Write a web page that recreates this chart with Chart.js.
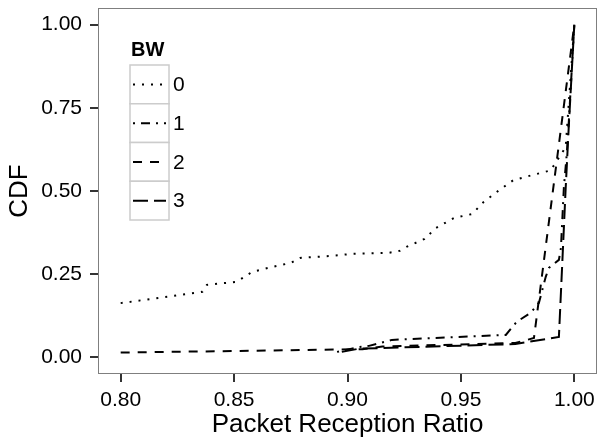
<!DOCTYPE html>
<html>
<head>
<meta charset="utf-8">
<script src="https://cdn.jsdelivr.net/npm/chart.js@4.4.1/dist/chart.umd.min.js"></script>
<style>
  html, body { margin: 0; padding: 0; background: #fff; }
</style>
</head>
<body>
<canvas id="cdfChart" width="598" height="440"></canvas>
<script>
// values
const bwLevels = ['0', '1', '2', '3'];

const prr0 = [0.800, 0.836, 0.838, 0.851, 0.858, 0.867, 0.875, 0.879, 0.893, 0.902, 0.918, 0.923,
              0.926, 0.934, 0.939, 0.947, 0.955, 0.960, 0.967, 0.973, 0.981, 0.9896, 0.9962, 1.000];
const cdf0 = [0.163, 0.197, 0.218, 0.227, 0.257, 0.272, 0.284, 0.299, 0.305, 0.311, 0.314, 0.320,
              0.332, 0.356, 0.389, 0.419, 0.431, 0.467, 0.503, 0.532, 0.547, 0.562, 0.632, 1.000];

const prr1 = [0.8954, 0.905, 0.9095, 0.9196, 0.9698, 0.9746, 0.9808, 0.9844, 0.9874, 0.9888,
              0.9932, 0.9941, 0.9954, 0.9967, 0.9976, 1.000];
const cdf1 = [0.0165, 0.031, 0.0345, 0.0525, 0.0675, 0.107, 0.134, 0.164, 0.242, 0.269,
              0.293, 0.329, 0.511, 0.614, 0.712, 1.000];

const prr2 = [0.800, 0.9066, 0.9154, 0.974, 0.9822, 1.000];
const cdf2 = [0.0144, 0.0246, 0.0324, 0.0435, 0.058, 1.000];

const prr3 = [0.8975, 0.905, 0.974, 0.9932, 0.9944, 0.9962, 0.9976, 1.000];
const cdf3 = [0.0165, 0.026, 0.040, 0.0615, 0.24, 0.51, 0.70, 1.000];

const xTicks = [0.80, 0.85, 0.90, 0.95, 1.00];
const yTicks = [0.00, 0.25, 0.50, 0.75, 1.00];

// ggplot linetypes: dotted, dotdash, dashed, longdash
const dashPatterns = [[2, 7], [2, 6, 9, 6], [9, 8], [15, 6]];

const FONT = '"Liberation Sans", Arial, Helvetica, sans-serif';

function toPoints(xs, ys) {
  return xs.map((x, i) => ({ x: x, y: ys[i] }));
}

const seriesX = [prr0, prr1, prr2, prr3];
const seriesY = [cdf0, cdf1, cdf2, cdf3];

const datasets = bwLevels.map((bw, i) => ({
  label: bw,
  data: toPoints(seriesX[i], seriesY[i]),
  borderColor: '#000',
  borderWidth: 2,
  borderDash: dashPatterns[i],
  pointRadius: 0,
  tension: 0,
  fill: false
}));

// grey panel border + ggplot style legend inside the panel
const panelLegend = {
  id: 'panelLegend',
  afterDatasetsDraw(chart) {
    const { ctx, chartArea: a } = chart;
    ctx.save();
    ctx.strokeStyle = '#7f7f7f';
    ctx.lineWidth = 1;
    ctx.strokeRect(a.left + 0.5, a.top + 0.5, a.width - 1, a.height - 1);

    const left = a.left + 32;
    const top = a.top + 57;
    const keyW = 39;
    const keyH = 38.75;

    ctx.fillStyle = '#000';
    ctx.font = 'bold 20px ' + FONT;
    ctx.textBaseline = 'alphabetic';
    ctx.textAlign = 'left';
    ctx.fillText('BW', left + 1, top - 9);

    chart.data.datasets.forEach((ds, i) => {
      const y = top + i * keyH;
      ctx.fillStyle = '#fff';
      ctx.fillRect(left, y, keyW, keyH);
      ctx.strokeStyle = '#cccccc';
      ctx.lineWidth = 1.5;
      ctx.setLineDash([]);
      ctx.strokeRect(left, y, keyW, keyH);

      ctx.strokeStyle = ds.borderColor;
      ctx.lineWidth = ds.borderWidth;
      ctx.setLineDash(ds.borderDash);
      ctx.beginPath();
      ctx.moveTo(left + 3, y + keyH / 2);
      ctx.lineTo(left + keyW - 3, y + keyH / 2);
      ctx.stroke();

      ctx.setLineDash([]);
      ctx.fillStyle = '#000';
      ctx.font = '21px ' + FONT;
      ctx.textBaseline = 'middle';
      ctx.fillText(ds.label, left + keyW + 4, y + keyH / 2 + 1);
    });
    ctx.restore();
  }
};

new Chart(document.getElementById('cdfChart'), {
  type: 'line',
  data: { datasets: datasets },
  options: {
    responsive: false,
    animation: false,
    layout: { padding: { top: 8, right: 1, left: 0, bottom: 0 } },
    plugins: { legend: { display: false }, tooltip: { enabled: false } },
    scales: {
      x: {
        type: 'linear',
        min: 0.79,
        max: 1.01,
        afterBuildTicks: s => { s.ticks = xTicks.map(v => ({ value: v })); },
        afterFit: s => { s.height = 66; s.paddingLeft = 0; s.paddingRight = 0; },
        grid: { drawOnChartArea: false, drawTicks: true, tickLength: 8, color: '#333', lineWidth: 2 },
        border: { display: false },
        ticks: {
          color: '#000',
          padding: 6,
          maxRotation: 0,
          font: { family: FONT, size: 21 },
          callback: v => v.toFixed(2)
        },
        title: {
          display: true,
          text: 'Packet Reception Ratio',
          color: '#000',
          font: { family: FONT, size: 26 },
          padding: { top: 0, bottom: 0 }
        }
      },
      y: {
        type: 'linear',
        min: -0.05,
        max: 1.05,
        afterBuildTicks: s => { s.ticks = yTicks.map(v => ({ value: v })); },
        afterFit: s => { s.width = 98; s.paddingTop = 0; s.paddingBottom = 0; },
        grid: { drawOnChartArea: false, drawTicks: true, tickLength: 8, color: '#333', lineWidth: 2 },
        border: { display: false },
        ticks: {
          color: '#000',
          padding: 8,
          font: { family: FONT, size: 21 },
          callback: v => v.toFixed(2)
        },
        title: {
          display: true,
          text: 'CDF',
          color: '#000',
          font: { family: FONT, size: 26 },
          padding: { top: 4, bottom: 0 }
        }
      }
    }
  },
  plugins: [panelLegend]
});
</script>
</body>
</html>
